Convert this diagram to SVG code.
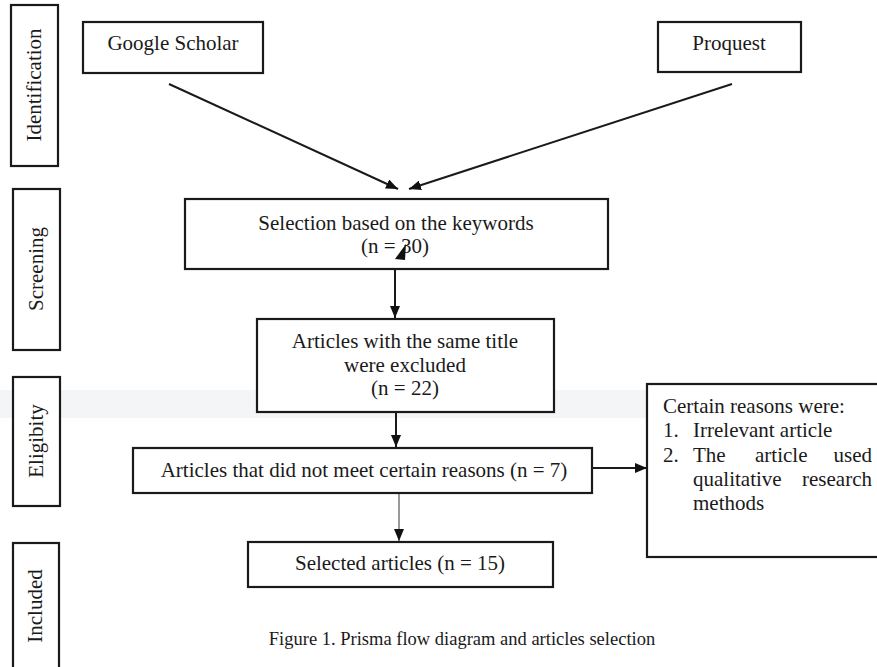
<svg xmlns="http://www.w3.org/2000/svg" width="877" height="667" viewBox="0 0 877 667">
<defs>
<style>
.box{fill:#fff;stroke:#1a1a1a;stroke-width:2.2}
.t{font-family:"Liberation Serif","Times New Roman",serif;font-size:21px;fill:#1a1a1a}
.c{text-anchor:middle}
.ln{stroke:#1a1a1a;stroke-width:2;fill:none}
</style>
<marker id="ah" viewBox="0 0 12 10" refX="12" refY="5" markerWidth="12" markerHeight="10" markerUnits="userSpaceOnUse" orient="auto">
<path d="M0,0 L12,5 L0,10 Z" fill="#111"/>
</marker>
</defs>
<rect width="877" height="667" fill="#fff"/>
<rect x="0" y="390" width="877" height="28" fill="#f4f5f7"/>

<g id="stage-identification">
<rect class="box" x="11" y="5" width="47" height="161"/>
<text class="t c" transform="translate(41,85) rotate(-90)">Identification</text>
</g>
<g id="stage-screening">
<rect class="box" x="13" y="189" width="47" height="161"/>
<text class="t c" transform="translate(43,269) rotate(-90)">Screening</text>
</g>
<g id="stage-eligibity">
<rect class="box" x="13" y="377" width="47" height="129"/>
<text class="t c" transform="translate(43,441) rotate(-90)">Eligibity</text>
</g>
<g id="stage-included">
<rect class="box" x="13" y="543" width="46" height="140"/>
<text class="t c" transform="translate(42,606) rotate(-90)">Included</text>
</g>

<g id="google-scholar">
<rect class="box" x="83" y="22" width="180" height="51"/>
<text class="t c" x="173" y="50">Google Scholar</text>
</g>
<g id="proquest">
<rect class="box" x="658" y="22" width="143" height="50"/>
<text class="t c" x="729" y="50">Proquest</text>
</g>
<g id="selection">
<rect class="box" x="185" y="199" width="423" height="70"/>
<text class="t c" x="396" y="230">Selection based on the keywords</text>
<text class="t c" x="395" y="253">(n = 30)</text>
</g>
<g id="same-title">
<rect class="box" x="257" y="319" width="297" height="93"/>
<text class="t c" x="405" y="348">Articles with the same title</text>
<text class="t c" x="405" y="372">were excluded</text>
<text class="t c" x="405" y="395">(n = 22)</text>
</g>
<g id="not-meet">
<rect class="box" x="133" y="448" width="459" height="45"/>
<text class="t c" x="364" y="477">Articles that did not meet certain reasons (n = 7)</text>
</g>
<g id="reasons">
<rect class="box" x="647" y="384" width="250" height="173"/>
<text class="t" x="663" y="413">Certain reasons were:</text>
<text class="t" x="663" y="437">1.</text>
<text class="t" x="693" y="437">Irrelevant article</text>
<text class="t" x="663" y="462">2.</text>
<text class="t" x="693" y="462">The</text>
<text class="t" x="755" y="462">article</text>
<text class="t" x="872" y="462" text-anchor="end">used</text>
<text class="t" x="693" y="486">qualitative</text>
<text class="t" x="872" y="486" text-anchor="end">research</text>
<text class="t" x="693" y="510">methods</text>
</g>
<g id="selected">
<rect class="box" x="248" y="542" width="305" height="45"/>
<text class="t c" x="400" y="570">Selected articles (n = 15)</text>
</g>

<g id="connectors">
<line class="ln" x1="169" y1="84" x2="398" y2="189" marker-end="url(#ah)"/>
<line class="ln" x1="732" y1="84" x2="409" y2="189" marker-end="url(#ah)"/>
<polygon points="406,244 395,259 405,260" fill="#111"/>
<line class="ln" x1="395" y1="270" x2="395" y2="318" marker-end="url(#ah)"/>
<line class="ln" x1="396" y1="413" x2="396" y2="447" marker-end="url(#ah)"/>
<line class="ln" x1="593" y1="468" x2="647" y2="468" marker-end="url(#ah)"/>
<line x1="399" y1="494" x2="399" y2="541" stroke="#555" stroke-width="1.2" marker-end="url(#ah)"/>
</g>

<text id="caption" class="t c" style="font-size:18.5px" x="462" y="645">Figure 1. Prisma flow diagram and articles selection</text>
</svg>
